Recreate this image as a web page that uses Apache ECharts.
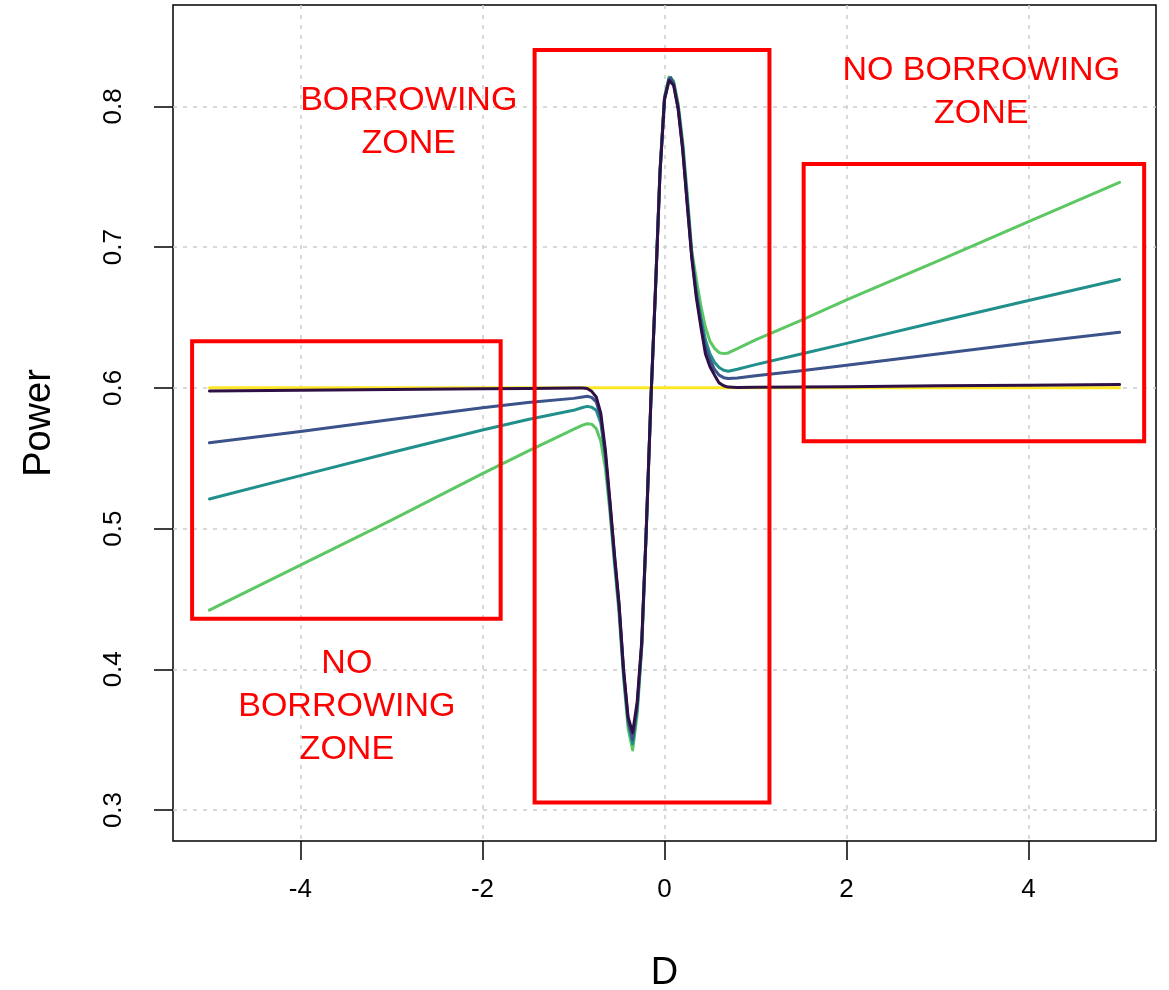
<!DOCTYPE html>
<html>
<head>
<meta charset="utf-8">
<script src="https://cdn.jsdelivr.net/npm/echarts@6/dist/echarts.min.js"></script>
<style>html,body{margin:0;padding:0;background:#fff;}#c{width:1169px;height:990px;}</style>
</head>
<body>
<div id="c"></div>
<script>
// ---- data ----
const xs = [-5,-4,-3,-2,-1.5,-1,-0.9,-0.85,-0.8,-0.75,-0.7,-0.65,-0.6,-0.55,-0.5,-0.45,-0.4,-0.35,-0.3,-0.25,-0.2,-0.15,-0.1,-0.05,0,0.05,0.07,0.1,0.15,0.2,0.25,0.3,0.35,0.4,0.45,0.5,0.55,0.6,0.65,0.7,0.8,1,1.5,2,3,4,5];
const yellowY = xs.map(() => 0.6);
const greenY = [0.442,0.474,0.506,0.539,0.555,0.5705,0.5735,0.5745,0.5742,0.571,0.562,0.543,0.512,0.475,0.44,0.394,0.358,0.3427,0.368,0.415,0.498,0.59,0.670,0.755,0.807,0.8208,0.822,0.818,0.802,0.775,0.738,0.697,0.677,0.658,0.643,0.633,0.628,0.625,0.6243,0.6248,0.6278,0.634,0.648,0.6625,0.690,0.718,0.746];
const tealY = [0.521,0.5376,0.554,0.570,0.5775,0.584,0.586,0.5868,0.5862,0.584,0.575,0.551,0.516,0.478,0.444,0.397,0.362,0.347,0.372,0.417,0.499,0.59,0.669,0.753,0.806,0.8198,0.821,0.817,0.800,0.772,0.734,0.695,0.669,0.650,0.634,0.624,0.618,0.6145,0.6125,0.6118,0.6132,0.6165,0.624,0.6316,0.647,0.662,0.677];
const blueY = [0.561,0.569,0.5775,0.5858,0.5895,0.5925,0.5935,0.594,0.5932,0.590,0.579,0.553,0.518,0.48,0.446,0.399,0.364,0.350,0.374,0.418,0.50,0.59,0.668,0.752,0.805,0.819,0.8205,0.816,0.799,0.770,0.731,0.693,0.666,0.646,0.629,0.620,0.613,0.609,0.6072,0.6066,0.607,0.6086,0.6122,0.616,0.624,0.632,0.6394];
const darkY = [0.5978,0.5983,0.5988,0.5993,0.5996,0.5999,0.5999,0.5995,0.5975,0.5935,0.582,0.556,0.52,0.482,0.447,0.400,0.366,0.355,0.377,0.42,0.50,0.591,0.668,0.752,0.805,0.8185,0.8196,0.815,0.798,0.769,0.730,0.692,0.664,0.643,0.624,0.615,0.609,0.6035,0.6015,0.6005,0.6003,0.6004,0.6006,0.6008,0.6014,0.6019,0.6024];
const xTicks = [-4,-2,0,2,4];
const yTicks = [0.3,0.4,0.5,0.6,0.7,0.8];
// zone boxes: [x1, y1, x2, y2] in data units
const boxLeft = [-5.19, 0.633, -1.80, 0.436];
const boxCenter = [-1.427, 0.84, 1.153, 0.3053];
const boxRight = [1.529, 0.759, 5.27, 0.562];
const labels = [
  {text: 'BORROWING\nZONE', x: -2.81, y: 0.789},
  {text: 'NO\nBORROWING\nZONE', x: -3.49, y: 0.3737},
  {text: 'NO BORROWING\nZONE', x: 3.48, y: 0.8103}
];

const FONT = '"Liberation Sans", Arial, Helvetica, sans-serif';
const pairs = ys => xs.map((x, i) => [x, ys[i]]);
const lineSeries = (name, ys, color) => ({
  name, type: 'line', data: pairs(ys), showSymbol: false, symbol: 'none',
  smooth: false,
  lineStyle: {color, width: 3, join: 'round', cap: 'round'}, itemStyle: {color}, animation: false, z: 3
});
const box = b => [{coord: [b[0], b[1]]}, {coord: [b[2], b[3]]}];

const chart = echarts.init(document.getElementById('c'), null, {renderer: 'canvas'});
chart.setOption({
  animation: false,
  backgroundColor: '#fff',
  grid: {left: 173, right: 13, top: 5, bottom: 149, containLabel: false, outerBoundsMode: 'none',
    show: true, borderColor: '#000', borderWidth: 1.5, backgroundColor: 'transparent'},
  xAxis: {
    type: 'value', min: -5.4, max: 5.4,
    name: 'D', nameLocation: 'middle', nameGap: 114,
    nameTextStyle: {fontFamily: FONT, fontSize: 38, color: '#000'},
    axisLine: {show: false, onZero: false},
    axisTick: {show: true, customValues: xTicks, length: 19, inside: false, lineStyle: {color: '#000', width: 1.5}},
    axisLabel: {customValues: xTicks, fontFamily: FONT, fontSize: 26, color: '#000', margin: 36},
    splitLine: {show: true, lineStyle: {color: '#cccccc', width: 1.5, type: [4, 6]}}
  },
  yAxis: {
    type: 'value', min: 0.278, max: 0.872,
    name: 'Power', nameLocation: 'middle', nameGap: 114,
    nameTextStyle: {fontFamily: FONT, fontSize: 38, color: '#000'},
    axisLine: {show: false, onZero: false},
    axisTick: {show: true, customValues: yTicks, length: 19, inside: false, lineStyle: {color: '#000', width: 1.5}},
    axisLabel: {customValues: yTicks, rotate: 90, fontFamily: FONT, fontSize: 26, color: '#000', margin: 46,
      formatter: v => v.toFixed(1)},
    splitLine: {show: true, lineStyle: {color: '#cccccc', width: 1.5, type: [4, 6]}}
  },
  series: [
    lineSeries('yellow', yellowY, '#FDE725'),
    lineSeries('green', greenY, '#5DC863'),
    lineSeries('teal', tealY, '#21908C'),
    lineSeries('blue', blueY, '#3B528B'),
    lineSeries('dark', darkY, '#2E1046'),
    {
      name: 'zones', type: 'line', data: [], z: 10, animation: false,
      markArea: {
        silent: true, z: 10,
        itemStyle: {color: 'rgba(0,0,0,0)', borderColor: '#FF0000', borderWidth: 4},
        data: [box(boxLeft), box(boxCenter), box(boxRight)]
      },
      markPoint: {
        silent: true, symbol: 'circle', symbolSize: 0,
        label: {show: true, position: 'inside', color: '#FF0000', fontFamily: FONT, fontSize: 34, lineHeight: 43, align: 'center',
          formatter: p => p.data.text},
        data: labels.map(l => ({coord: [l.x, l.y], text: l.text}))
      }
    }
  ]
});
</script>
</body>
</html>
